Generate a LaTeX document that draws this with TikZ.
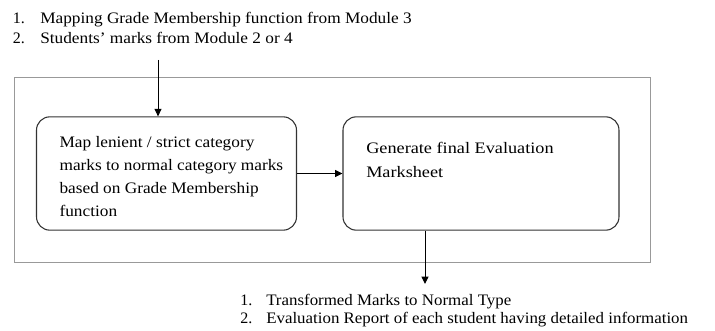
\documentclass[tikz,border=0pt]{standalone}
\usepackage{fontspec}
\usepackage{graphicx}
\setmainfont{Liberation Serif}
\usetikzlibrary{arrows.meta}
\newcommand{\hsc}[2]{\scalebox{#1}[1]{#2}}
\begin{document}
\begin{tikzpicture}[x=0.75pt,y=-0.75pt,
  outerframe/.style={draw=black!40, line width=0.75pt},
  procbox/.style={draw=black!80, line width=0.8pt, rounded corners=10pt, inner sep=0pt},
  arr/.style={draw=black, line width=0.75pt, -{Triangle[length=5.5pt,width=5.25pt]}},
  txtbase/.style={inner sep=0pt, align=left, anchor=north west},
]
\useasboundingbox[fill=white] (0,0) rectangle (715,331);

% outer frame
\draw[outerframe] (14,78) rectangle (650,263);

% inputs
\node[txtbase, font=\fontsize{12pt}{15pt}\selectfont] (inputs) at (12.7,12.4)
  {\makebox[20.5pt][l]{1.}\hsc{1.08}{Mapping Grade Membership function from Module 3}\\
   \makebox[20.5pt][l]{2.}\hsc{1.08}{Students’ marks from Module 2 or 4}};
\coordinate (inpt) at (158,60);

% process boxes
\node[procbox, minimum width=195pt, minimum height=85pt] (box1) at (166.5,173.5) {};
\node[procbox, minimum width=207pt, minimum height=85pt] (box2) at (481,173.5) {};

\node[txtbase, font=\fontsize{12pt}{17.3pt}\selectfont] (t1) at (59.3,136.4)
  {\hsc{1.08}{Map lenient / strict category}\\
   \hsc{1.08}{marks to normal category marks}\\
   \hsc{1.08}{based on Grade Membership}\\
   \hsc{1.08}{function}};
\node[txtbase, font=\fontsize{12pt}{18pt}\selectfont] (t2) at (366,142.1)
  {\hsc{1.14}{Generate final Evaluation}\\
   \hsc{1.14}{Marksheet}};

% outputs
\node[txtbase, font=\fontsize{12pt}{13.75pt}\selectfont] (outputs) at (240,294.1)
  {\makebox[19.5pt][l]{1.}\hsc{1.056}{Transformed Marks to Normal Type}\\
   \makebox[19.5pt][l]{2.}\hsc{1.056}{Evaluation Report of each student having detailed information}};
\coordinate (outpt) at (425,284);

% connectors
\draw[arr] (inpt) -- (inpt |- box1.north);
\draw[arr] (box1.east) -- (box2.west);
\draw[arr] (outpt |- box2.south) -- (outpt);
\end{tikzpicture}
\end{document}
